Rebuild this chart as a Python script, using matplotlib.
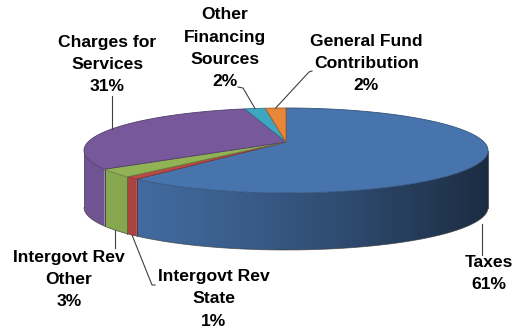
import numpy as np
import matplotlib
matplotlib.use("Agg")
import matplotlib.pyplot as plt
from matplotlib.patches import Polygon
from matplotlib.colors import to_rgb

# ---- data ----
categories = ["Taxes", "Intergovt Rev\nState", "Intergovt Rev\nOther",
              "Charges for\nServices", "Other\nFinancing\nSources",
              "General Fund\nContribution"]
shares = [61, 1, 3, 31, 2, 2]
colors = ["#4874AD", "#B94A47", "#91B356", "#77599B", "#3FA6C1", "#E8873A"]

# ---- figure / pixel-space axes ----
W, H = 515, 328
fig = plt.figure(figsize=(W / 100, H / 100), dpi=100)
ax = fig.add_axes([0, 0, 1, 1])
ax.set_xlim(0, W)
ax.set_ylim(H, 0)
ax.axis("off")

# pie geometry (pixels)
CX, TOP, BOT, HALF_W, DEPTH = 286, 108, 193, 202, 57
K = 0.2  # perspective strength


def project(theta_deg, down=0.0):
    t = np.radians(theta_deg)
    x, z = np.sin(t), np.cos(t)
    w = 1 + K * z
    u, v = x / w, z / w
    px = CX + u * HALF_W * np.sqrt(1 - K ** 2)
    py = TOP + (1 / (1 + K) - v) * (BOT - TOP) * (1 - K ** 2) / 2 + down
    return px, py


apex = project(0)[0], TOP + (BOT - TOP) * (1 - K) / 2

edges = np.concatenate([[0], np.cumsum(shares)]) * 360.0 / sum(shares)
vis_lo = np.degrees(np.arccos(-K))
vis_hi = 360 - vis_lo


def darker(c, f):
    return tuple(np.clip(np.array(to_rgb(c)) * f, 0, 1))


# ---- side walls with horizontal shading ----
xs = np.linspace(CX - HALF_W, CX + HALF_W, 400)
tt = (xs - xs[0]) / (xs[-1] - xs[0])
shade = 0.95 - 0.57 * tt ** 1.4
for i, c in enumerate(colors):
    a0, a1 = max(edges[i], vis_lo), min(edges[i + 1], vis_hi)
    if a1 <= a0:
        continue
    th = np.linspace(a0, a1, 200)
    tx, ty = project(th)
    bx, by = project(th[::-1], DEPTH)
    pts = np.column_stack([np.concatenate([tx, bx]), np.concatenate([ty, by])])
    poly = Polygon(pts, closed=True, facecolor="none", edgecolor="none")
    ax.add_patch(poly)
    img = np.array(to_rgb(c))[None, None, :] * shade[None, :, None]
    img = np.repeat(img, 2, axis=0)
    im = ax.imshow(img, extent=(xs[0], xs[-1], BOT + DEPTH + 5, TOP),
                   aspect="auto", interpolation="bilinear", zorder=2)
    im.set_clip_path(poly)
    ax.plot([tx[0], bx[-1]], [ty[0], by[-1]], color=darker(c, 0.55), lw=0.6, zorder=3)

# silhouette of the wall
th = np.linspace(vis_lo, vis_hi, 300)
bx, by = project(th, DEPTH)
ax.plot(bx, by, color="#3a3a3a", lw=0.6, alpha=0.7, zorder=3)
for a in (vis_lo, vis_hi):
    x0, y0 = project(a)
    ax.plot([x0, x0], [y0, y0 + DEPTH], color="#555555", lw=0.5, alpha=0.7, zorder=3)

# ---- top faces ----
for i, c in enumerate(colors):
    th = np.linspace(edges[i], edges[i + 1], max(3, int((edges[i + 1] - edges[i]) * 2)))
    tx, ty = project(th)
    pts = np.column_stack([np.concatenate([[apex[0]], tx]), np.concatenate([[apex[1]], ty])])
    ax.add_patch(Polygon(pts, closed=True, facecolor=c, edgecolor=darker(c, 0.7),
                         lw=0.6, zorder=4, joinstyle="round"))

# ---- labels and leader lines ----
FONT = dict(family=["Liberation Sans", "DejaVu Sans"], weight="bold", size=12.6)
LS = 1.6
labels = [f"{n}\n{s}%" for n, s in zip(categories, shares)]
label_pos = [(489, 289), (213.5, 325.5), (69, 306), (107, 91), (225, 86), (366.5, 90)]
mids = (edges[:-1] + edges[1:]) / 2


def anchor(i):
    m = mids[i]
    if vis_lo < m < vis_hi:
        return project(m, DEPTH)
    return project(m)


leaders = []
ax0, ay0 = anchor(0)
leaders.append([(ax0 - 4, 255), (ax0 - 4, ay0 + 10)])
ax1, ay1 = anchor(1)
leaders.append([(155, 285), (152, 285), (ax1, ay1)])
ax2, ay2 = anchor(2)
leaders.append([(ax2, 248), (ax2, ay2)])
ax3, ay3 = anchor(3)
leaders.append([(ax3, 96), (ax3, ay3)])
ax4, ay4 = anchor(4)
leaders.append([(238, 87), (243, 88), (ax4, ay4)])
ax5, ay5 = anchor(5)
leaders.append([(312, 71), (309, 72), (ax5, ay5)])

for lab, (x, y), ld in zip(labels, label_pos, leaders):
    ax.text(x, y, lab, ha="center", va="baseline", multialignment="center",
            linespacing=LS, color="black", zorder=6, **FONT)
    lx, ly = zip(*ld)
    ax.plot(lx, ly, color="#404040", lw=0.8, zorder=5)

fig.savefig("out.png", dpi=100)
